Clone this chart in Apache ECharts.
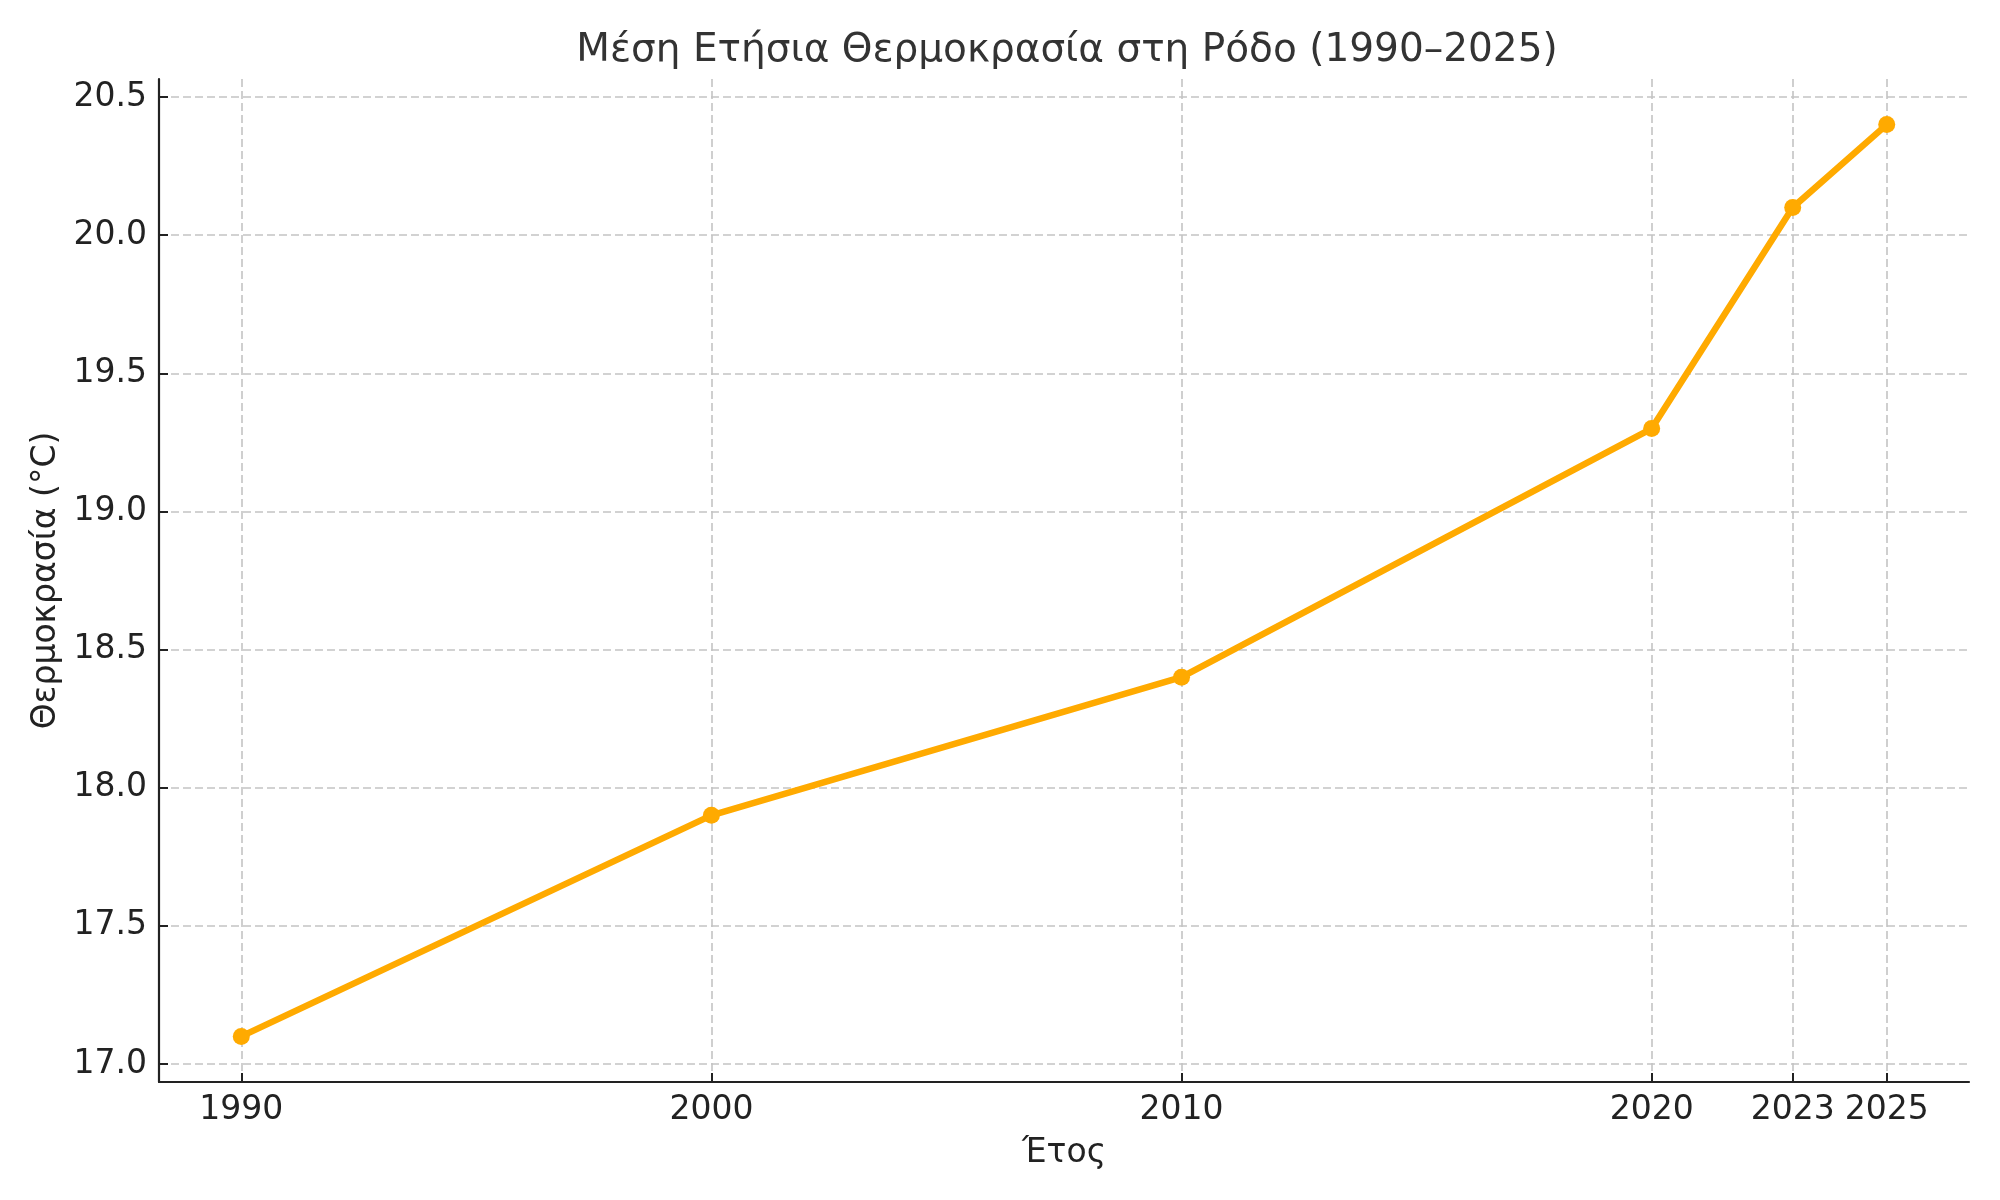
<!DOCTYPE html>
<html>
<head>
<meta charset="utf-8">
<title>Μέση Ετήσια Θερμοκρασία στη Ρόδο</title>
<script src="https://cdn.jsdelivr.net/npm/echarts@6.0.0/dist/echarts.min.js"></script>
<style>
  html, body { margin: 0; padding: 0; background: #fff; }
  #chart { width: 2000px; height: 1200px; }
</style>
</head>
<body>
<div id="chart"></div>
<script>
var years = [1990, 2000, 2010, 2020, 2023, 2025];
var temps = [17.1, 17.9, 18.4, 19.3, 20.1, 20.4];
var yTicks = [17.0, 17.5, 18.0, 18.5, 19.0, 19.5, 20.0, 20.5];

var points = years.map(function (y, i) { return [y, temps[i]]; });

var font = 'DejaVu Sans';
var chart = echarts.init(document.getElementById('chart'));
chart.setOption({
  animation: false,
  backgroundColor: '#ffffff',
  title: {
    text: 'Μέση Ετήσια Θερμοκρασία στη Ρόδο (1990–2025)',
    left: 1062, top: 26, textAlign: 'center',
    textStyle: { fontFamily: font, fontSize: 39, fontWeight: 'normal', color: '#333333' }
  },
  grid: { left: 159, right: 31, top: 79, bottom: 118 },
  xAxis: {
    type: 'value',
    min: 1988.25, max: 2026.75,
    name: 'Έτος', nameLocation: 'middle', nameGap: 55,
    nameTextStyle: { fontFamily: font, fontSize: 33, color: '#222222' },
    axisLine: { show: true, lineStyle: { color: '#222222', width: 2.2 } },
    axisTick: { show: true, inside: true, length: 9, customValues: years, lineStyle: { color: '#222222', width: 2 } },
    axisLabel: { customValues: years, margin: 12, fontFamily: font, fontSize: 33, color: '#222222',
      formatter: function (v) { return String(v); } },
    splitLine: { show: true, lineStyle: { color: '#c4c4c4', type: [8, 4], width: 1.6 } }
  },
  yAxis: {
    type: 'value',
    min: 16.935, max: 20.565,
    name: 'Θερμοκρασία (°C)', nameLocation: 'middle', nameGap: 96,
    nameTextStyle: { fontFamily: font, fontSize: 33, color: '#222222' },
    axisLine: { show: true, lineStyle: { color: '#222222', width: 2.2 } },
    axisTick: { show: true, inside: true, length: 9, customValues: yTicks, lineStyle: { color: '#222222', width: 2 } },
    axisLabel: { customValues: yTicks, margin: 12, fontFamily: font, fontSize: 33, color: '#222222',
      formatter: function (v) { return v.toFixed(1); } },
    splitLine: { show: true, lineStyle: { color: '#c4c4c4', type: [8, 4], width: 1.6 } }
  },
  series: [{
    type: 'line',
    data: points,
    symbol: 'circle', symbolSize: 17,
    lineStyle: { color: '#FFAA00', width: 6.5 },
    itemStyle: { color: '#FFAA00' }
  }]
});
</script>
</body>
</html>
